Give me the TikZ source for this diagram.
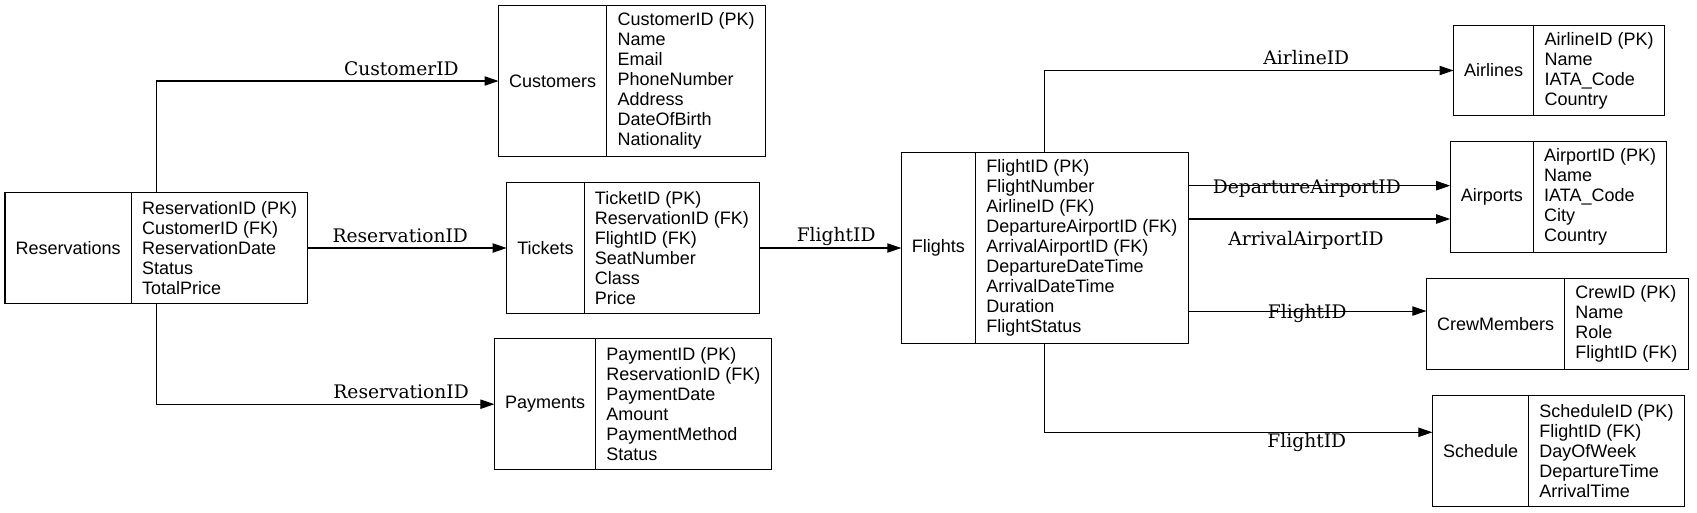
\documentclass[tikz,border=0pt]{standalone}
\usepackage{fontspec}
\setsansfont{Liberation Sans}
\newfontfamily\edgefont{DejaVu Serif}
\usetikzlibrary{arrows.meta,calc,positioning}

\begin{document}
\begin{tikzpicture}[x=0.75pt,y=-0.75pt,line width=0.8pt,node distance=0pt,rows/.style={minimum height={#1*15pt+8pt}}]
  \tikzstyle{cell}=[draw,outer sep=0pt,inner xsep=8pt,inner ysep=2pt,font=\sffamily\fontsize{13.5}{15}\selectfont]
  \tikzstyle{tname}=[cell,anchor=west]
  \tikzstyle{tcols}=[cell,align=left]
  \tikzstyle{fk}=[-{Triangle[length=10.5pt,width=7pt]}]
  \tikzstyle{lbl}=[font=\edgefont\fontsize{14}{16}\selectfont,inner sep=1pt,text height=10.6pt,text depth=3.3pt]
  \useasboundingbox (0,0) rectangle (1697,512);
  \node[tname,rows=5] (res) at (5,248) {Reservations};
  \node[tcols,rows=5,right=of res] (res_f) {ReservationID (PK)\\CustomerID (FK)\\ReservationDate\\Status\\TotalPrice};
  \node[tname,rows=7] (cus) at (498.5,81) {Customers};
  \node[tcols,rows=7,right=of cus] (cus_f) {CustomerID (PK)\\Name\\Email\\PhoneNumber\\Address\\DateOfBirth\\Nationality};
  \node[tname,rows=6] (tic) at (506.6,248) {Tickets};
  \node[tcols,rows=6,right=of tic] (tic_f) {TicketID (PK)\\ReservationID (FK)\\FlightID (FK)\\SeatNumber\\Class\\Price};
  \node[tname,rows=6] (pay) at (494.4,404.2) {Payments};
  \node[tcols,rows=6,right=of pay] (pay_f) {PaymentID (PK)\\ReservationID (FK)\\PaymentDate\\Amount\\PaymentMethod\\Status};
  \node[tname,rows=9] (fli) at (901.3,248) {Flights};
  \node[tcols,rows=9,right=of fli] (fli_f) {FlightID (PK)\\FlightNumber\\AirlineID (FK)\\DepartureAirportID (FK)\\ArrivalAirportID (FK)\\DepartureDateTime\\ArrivalDateTime\\Duration\\FlightStatus};
  \node[tname,rows=4] (air) at (1453.5,70.5) {Airlines};
  \node[tcols,rows=4,right=of air] (air_f) {AirlineID (PK)\\Name\\IATA\_Code\\Country};
  \node[tname,rows=5] (apt) at (1450.2,197) {Airports};
  \node[tcols,rows=5,right=of apt] (apt_f) {AirportID (PK)\\Name\\IATA\_Code\\City\\Country};
  \node[tname,rows=4] (crew) at (1426.4,323.7) {CrewMembers};
  \node[tcols,rows=4,right=of crew] (crew_f) {CrewID (PK)\\Name\\Role\\FlightID (FK)};
  \node[tname,rows=5] (sch) at (1432.4,450.7) {Schedule};
  \node[tcols,rows=5,right=of sch] (sch_f) {ScheduleID (PK)\\FlightID (FK)\\DayOfWeek\\DepartureTime\\ArrivalTime};

  \coordinate (res_top) at ($(res.north west)!.5!(res_f.north east)$);
  \coordinate (res_bot) at ($(res.south west)!.5!(res_f.south east)$);
  \coordinate (fli_top) at ($(fli.north west)!.5!(fli_f.north east)$);
  \coordinate (fli_bot) at ($(fli.south west)!.5!(fli_f.south east)$);
  \coordinate (dep) at ([yshift=8.5pt]apt.west);
  \coordinate (arr) at ([yshift=-16.5pt]apt.west);
  \coordinate (crew_in) at ([yshift=9.5pt]crew.west);
  \coordinate (sch_in) at ([yshift=13.8pt]sch.west);

  \draw[fk] (res_top) |- node[lbl,pos=.858,above=-0.5pt] {CustomerID} (cus);
  \draw[fk] (res_f) -- node[lbl,pos=.465,above=-0.5pt] {ReservationID} (tic);
  \draw[fk] (res_bot) |- node[lbl,pos=.862,above=-0.5pt] {ReservationID} (pay);
  \draw[fk] (tic_f) -- node[lbl,pos=.54,above=0pt] {FlightID} (fli);
  \draw[fk] (fli_top) |- node[lbl,pos=.82,above=-0.5pt] {AirlineID} (air);
  \draw[fk] (fli_f.east |- dep) -- node[lbl,pos=.453,yshift=-2pt] {DepartureAirportID} (dep);
  \draw[fk] (fli_f.east |- arr) -- node[lbl,pos=.45,below=8pt] {ArrivalAirportID} (arr);
  \draw[fk] (fli_f.east |- crew_in) -- node[lbl,pos=.5,yshift=-2pt] {FlightID} (crew_in);
  \draw[fk] (fli_bot) |- node[lbl,pos=.838,below=-0.6pt] {FlightID} (sch_in);
\end{tikzpicture}
\end{document}
